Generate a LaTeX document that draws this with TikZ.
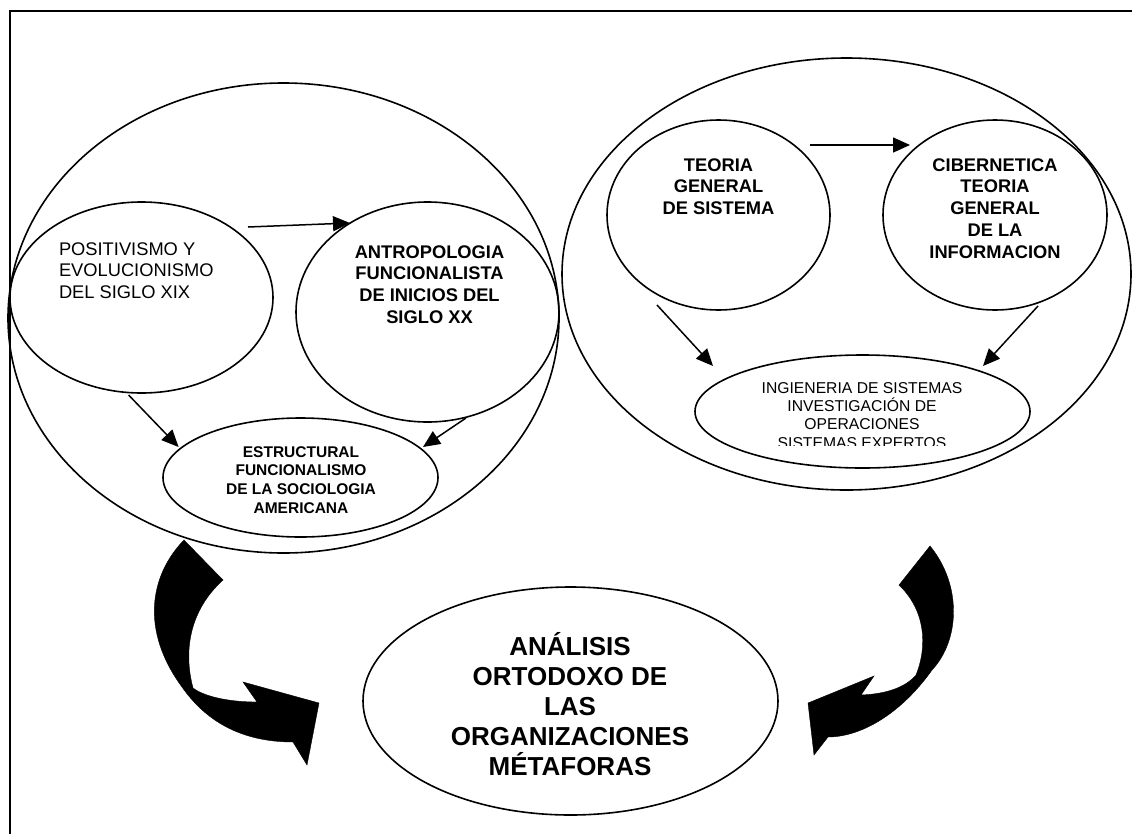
\documentclass[tikz,border=0pt]{standalone}
\usepackage{fontspec}
\setmainfont{Liberation Sans}
\usetikzlibrary{arrows.meta,shapes.geometric}
\begin{document}
\begin{tikzpicture}[x=1pt,y=-1pt,
  oval/.style={draw, line width=1.6pt, ellipse, inner sep=0pt, outer sep=0pt},
  conn/.style={line width=1.5pt, -{Triangle[length=17pt,width=15pt]}},
  bigarrow/.style={fill=black, draw=black, line width=0.4pt, line join=miter},
  txt/.style={inner sep=0pt, outer sep=0pt, align=center, anchor=north},
  fbig/.style={font=\fontsize{18.3}{21.7}\selectfont},
  fbigb/.style={font=\fontsize{18.3}{21.8}\selectfont\bfseries},
  fmidb/.style={font=\fontsize{15.5}{18.7}\selectfont\bfseries},
  fmid/.style={font=\fontsize{15.7}{18.4}\selectfont},
  fhuge/.style={font=\fontsize{26}{30}\selectfont\bfseries}]
\useasboundingbox (0,0) rectangle (1132,833);
% frame (only top and left edges visible)
\draw[line width=2.2pt] (1140,11) -- (9.6,11) -- (9.6,840);

% left group
\node[oval, minimum width=551pt, minimum height=470pt] (bigL) at (283.5,318) {};
\node[oval, minimum width=263pt, minimum height=191pt] (pos) at (141.5,297.5) {};
\node[oval, minimum width=263pt, minimum height=220pt] (ant) at (427.5,312) {};
\node[oval, minimum width=275pt, minimum height=119pt] (est) at (300.5,477.5) {};

\node[txt, fbig, align=left, anchor=north west] (tpos) at (59,236.7)
  {\rule{0pt}{18.3pt}POSITIVISMO Y\\EVOLUCIONISMO\\DEL SIGLO XIX};
\node[txt, fbigb] (tant) at (429.5,239.7)
  {\rule{0pt}{18.3pt}ANTROPOLOGIA\\FUNCIONALISTA\\DE INICIOS DEL\\SIGLO XX};
\node[txt, fmidb] (test) at (301,441.5)
  {\rule{0pt}{15.5pt}ESTRUCTURAL\\FUNCIONALISMO\\DE LA SOCIOLOGIA\\AMERICANA};

\coordinate (c1s) at (248,227);
\coordinate (c1e) at (350,223);
\coordinate (c2s) at (128.6,395);
\coordinate (c2e) at (178.6,447);
\coordinate (c3s) at (466,418);
\coordinate (c3e) at (423,447);
\draw[conn] (c1s) -- (c1e);
\draw[conn] (c2s) -- (c2e);
\draw[conn] (c3s) -- (c3e);

% right group
\node[oval, minimum width=569pt, minimum height=432pt] (bigR) at (846.5,274) {};
\node[oval, minimum width=223pt, minimum height=190pt] (tgs) at (718.5,215) {};
\node[oval, minimum width=224pt, minimum height=190pt] (cib) at (995,215) {};
\node[oval, minimum width=335pt, minimum height=113pt] (ing) at (862.5,411.5) {};

\node[txt, fbigb] (ttgs) at (718.5,152.7)
  {\rule{0pt}{18.3pt}TEORIA\\GENERAL\\DE SISTEMA};
\node[txt, fbigb] (tcib) at (995,152.7)
  {\rule{0pt}{18.3pt}CIBERNETICA\\TEORIA\\GENERAL\\DE LA\\INFORMACION};
\begin{scope}
  \clip (650,340) rectangle (1080,445.5);
  \node[txt, fmid] (ting) at (862,377.3)
    {\rule{0pt}{15.7pt}INGIENERIA DE SISTEMAS\\INVESTIGACIÓN DE\\OPERACIONES\\SISTEMAS EXPERTOS};
\end{scope}

\coordinate (c4s) at (810,145);
\coordinate (c4e) at (910,145);
\coordinate (c5s) at (657,305);
\coordinate (c5e) at (713,366);
\coordinate (c6s) at (1038,306);
\coordinate (c6e) at (983,366);
\draw[conn] (c4s) -- (c4e);
\draw[conn] (c5s) -- (c5e);
\draw[conn] (c6s) -- (c6e);

% bottom ellipse
\node[oval, minimum width=415pt, minimum height=228pt] (ana) at (570.5,701) {};
\node[txt, fhuge] (tana) at (570,629)
  {\rule{0pt}{26pt}ANÁLISIS\\ORTODOXO DE\\LAS\\ORGANIZACIONES\\MÉTAFORAS};

% curved block arrows
\path[bigarrow] (184,540) .. controls (150,575) and (140,630) .. (182,687)
  .. controls (205,720) and (240,742) .. (293,742)
  -- (307,765) -- (319,703) -- (243,682) -- (257,702)
  .. controls (230,702) and (205,697) .. (193,688)
  .. controls (183,650) and (190,610) .. (223,580) -- cycle;
\path[bigarrow] (930,546) .. controls (962,585) and (960,640) .. (932,670)
  .. controls (900,715) and (860,737) .. (828,737)
  -- (814,755) -- (808,703) -- (874,676) -- (861,695)
  .. controls (885,694) and (905,688) .. (916,675)
  .. controls (928,645) and (925,610) .. (899,585) -- cycle;
\end{tikzpicture}
\end{document}
